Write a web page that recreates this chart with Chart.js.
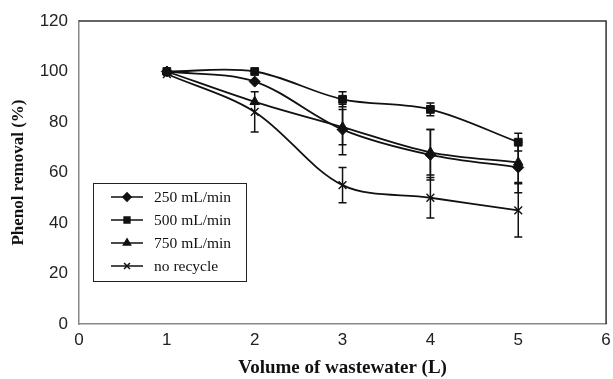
<!DOCTYPE html>
<html>
<head>
<meta charset="utf-8">
<script src="https://cdn.jsdelivr.net/npm/chart.js@4.4.0/dist/chart.umd.min.js"></script>
<style>
  html, body { margin: 0; padding: 0; background: #fff; }
  #wrap { width: 613px; height: 379px; position: relative; }
</style>
</head>
<body>
<div id="wrap"><canvas id="phenolChart"></canvas></div>
<script>
// Volume of wastewater (L)
const volumes = [1, 2, 3, 4, 5];

// Phenol removal (%) per recycle flow rate
const flow250 = [100, 96, 77, 67, 62];
const flow500 = [100, 100, 89, 85, 72];
const flow750 = [100, 88, 78, 68, 64];
const noRecycle = [99, 84, 55, 50, 45];

// Error bar half-widths (%)
const err250 = [0, 0, 10, 10, 10];
const err500 = [0, 0, 3, 2.5, 3.5];
const err750 = [0, 0, 7, 9, 8];
const errNoRecycle = [0, 8, 7, 8, 10.5];

const seriesNames = ['250 mL/min', '500 mL/min', '750 mL/min', 'no recycle'];
const markerStyles = ['rectRot', 'rect', 'triangle', 'cross'];
const markerSizes = [5.5, 5.5, 5.5, 5.5];

const yTicks = [0, 20, 40, 60, 80, 100, 120];
const xTicks = [0, 1, 2, 3, 4, 5, 6];

const allValues = [flow250, flow500, flow750, noRecycle];
const allErrors = [err250, err500, err750, errNoRecycle];

function makeDataset(i) {
    const isCross = markerStyles[i] === 'cross';
    return {
        label: seriesNames[i],
        data: volumes.map((v, k) => ({ x: v, y: allValues[i][k] })),
        borderColor: '#111',
        backgroundColor: '#111',
        borderWidth: 1.8,
        pointStyle: isCross ? 'crossRot' : markerStyles[i],
        pointRadius: markerSizes[i],
        pointBorderWidth: isCross ? 1.4 : 1,
        pointBackgroundColor: '#111',
        pointBorderColor: '#111',
        tension: 0.33,
        fill: false,
        errors: allErrors[i]
    };
}

// Draws vertical error bars from the dataset's errors array
const errorBars = {
    id: 'errorBars',
    afterDatasetsDraw(chart) {
        const ctx = chart.ctx;
        const xs = chart.scales.x;
        const ys = chart.scales.y;
        ctx.save();
        ctx.strokeStyle = '#111';
        ctx.lineWidth = 1.5;
        chart.data.datasets.forEach(ds => {
            ds.data.forEach((p, k) => {
                const e = ds.errors[k];
                if (!e) return;
                const px = xs.getPixelForValue(p.x);
                const top = ys.getPixelForValue(p.y + e);
                const bot = ys.getPixelForValue(p.y - e);
                ctx.beginPath();
                ctx.moveTo(px, top); ctx.lineTo(px, bot);
                ctx.moveTo(px - 4, top); ctx.lineTo(px + 4, top);
                ctx.moveTo(px - 4, bot); ctx.lineTo(px + 4, bot);
                ctx.stroke();
            });
        });
        ctx.restore();
    }
};

// Top and right frame of the plot area, plus the boxed legend
const frameAndLegend = {
    id: 'frameAndLegend',
    afterDraw(chart) {
        const ctx = chart.ctx;
        const a = chart.chartArea;
        ctx.save();
        ctx.strokeStyle = '#333';
        ctx.lineWidth = 1.5;
        ctx.beginPath();
        ctx.moveTo(a.left, a.top);
        ctx.lineTo(a.right, a.top);
        ctx.lineTo(a.right, a.bottom);
        ctx.stroke();

        // legend box
        const bx = 93, by = 183, bw = 153, bh = 98;
        ctx.strokeStyle = '#222';
        ctx.lineWidth = 1;
        ctx.strokeRect(bx + 0.5, by + 0.5, bw, bh);
        ctx.font = '15.5px "Liberation Serif", "Times New Roman", serif';
        ctx.fillStyle = '#111';
        ctx.textBaseline = 'middle';
        const rowY = [197, 220, 243, 266];
        chart.data.datasets.forEach((ds, i) => {
            const y = rowY[i];
            ctx.strokeStyle = '#111';
            ctx.lineWidth = 1.5;
            ctx.beginPath();
            ctx.moveTo(111, y); ctx.lineTo(143, y);
            ctx.stroke();
            Chart.helpers.drawPoint(ctx, {
                pointStyle: ds.pointStyle,
                radius: ds.pointRadius * 0.75,
                borderWidth: 1
            }, 127, y);
            ctx.fillStyle = '#111';
            ctx.fillText(ds.label, 154, y + 1);
        });
        ctx.restore();
    }
};

const ctx = document.getElementById('phenolChart').getContext('2d');
new Chart(ctx, {
    type: 'line',
    data: {
        datasets: [0, 1, 2, 3].map(makeDataset)
    },
    options: {
        responsive: true,
        maintainAspectRatio: false,
        animation: false,
        layout: { padding: { top: 21, right: 5, left: 0, bottom: 0 } },
        plugins: {
            legend: { display: false },
            tooltip: { enabled: false }
        },
        scales: {
            x: {
                type: 'linear',
                min: 0,
                max: 6,
                afterBuildTicks: scale => { scale.ticks = xTicks.map(v => ({ value: v })); },
                afterFit: scale => {
                    scale.height = 55;
                    scale.paddingLeft = 0;
                    scale.paddingRight = 0;
                },
                grid: { display: false, drawTicks: false },
                border: { color: '#888', width: 1.5 },
                ticks: {
                    padding: 6,
                    color: '#222',
                    font: { family: '"Liberation Sans", Arial, sans-serif', size: 17 }
                },
                title: {
                    display: true,
                    text: 'Volume of wastewater (L)',
                    color: '#111',
                    padding: { top: 4, bottom: 0 },
                    font: { family: '"Liberation Serif", "Times New Roman", serif', size: 19, weight: 'bold' }
                }
            },
            y: {
                min: 0,
                max: 120,
                afterBuildTicks: scale => { scale.ticks = yTicks.map(v => ({ value: v })); },
                afterFit: scale => {
                    scale.width = 79;
                    scale.paddingTop = 0;
                    scale.paddingBottom = 0;
                },
                grid: { display: false, drawTicks: false },
                border: { color: '#888', width: 1.5 },
                ticks: {
                    padding: 11,
                    color: '#222',
                    font: { family: '"Liberation Sans", Arial, sans-serif', size: 17 }
                },
                title: {
                    display: true,
                    text: 'Phenol removal (%)',
                    color: '#111',
                    padding: { top: 8, bottom: 4 },
                    font: { family: '"Liberation Serif", "Times New Roman", serif', size: 17, weight: 'bold' }
                }
            }
        }
    },
    plugins: [errorBars, frameAndLegend]
});
</script>
</body>
</html>
